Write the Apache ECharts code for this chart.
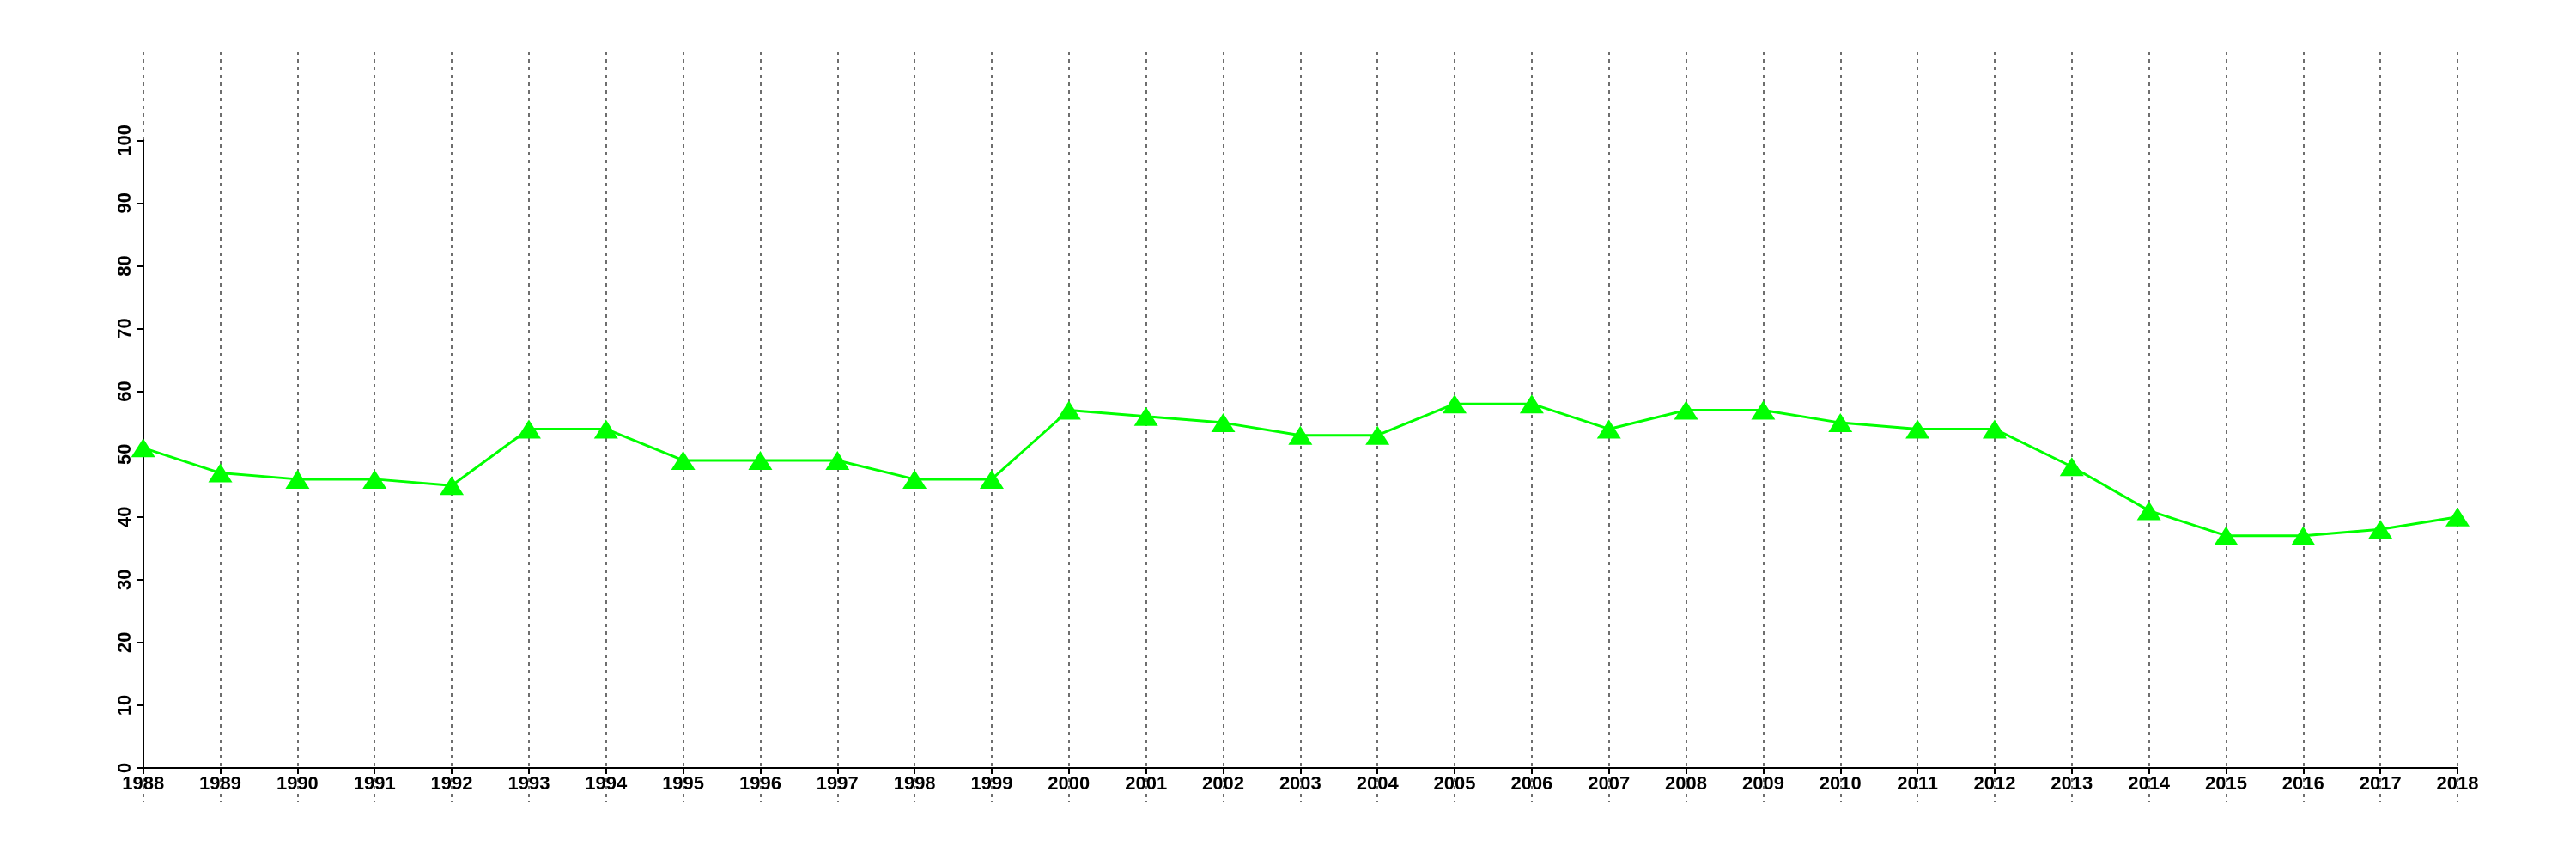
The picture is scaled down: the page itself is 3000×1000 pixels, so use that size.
<!DOCTYPE html>
<html>
<head>
<meta charset="utf-8">
<script src="https://cdn.jsdelivr.net/npm/echarts@6/dist/echarts.min.js"></script>
<style>
html,body{margin:0;padding:0;background:#fff;}
#chart{width:3000px;height:1000px;}
</style>
</head>
<body>
<div id="chart"></div>
<script>
const years = ["1988","1989","1990","1991","1992","1993","1994","1995","1996","1997","1998","1999","2000","2001","2002","2003","2004","2005","2006","2007","2008","2009","2010","2011","2012","2013","2014","2015","2016","2017","2018"];
const values = [51,47,46,46,45,54,54,49,49,49,46,46,57,56,55,53,53,58,58,54,57,57,55,54,54,48,41,37,37,38,40];
const yMin = 0, yMax = 100, yStep = 10;

const chart = echarts.init(document.getElementById('chart'), null, {renderer:'canvas'});
const font = {fontFamily:'Liberation Sans, Arial, sans-serif', fontWeight:'bold', fontSize:22, color:'#000'};
chart.setOption({
  backgroundColor:'#fff',
  animation:false,
  grid:[
    {left:166.7, right:138, top:163.3, bottom:106},
    {left:166.7, right:138, top:60, bottom:66}
  ],
  xAxis:[
    {gridIndex:0, type:'category', data:years, boundaryGap:false,
     axisLine:{lineStyle:{color:'#000', width:2}},
     axisTick:{show:true, length:7, lineStyle:{color:'#000', width:2}},
     axisLabel:Object.assign({margin:8, interval:0}, font),
     splitLine:{show:false}, z:3},
    {gridIndex:1, type:'category', data:years, boundaryGap:false,
     axisLine:{show:false}, axisTick:{show:false}, axisLabel:{show:false},
     splitLine:{show:true, lineStyle:{color:'#6e6e6e', width:2, type:[4,5]}}, z:1}
  ],
  yAxis:[
    {gridIndex:0, type:'value', min:yMin, max:yMax, interval:yStep,
     axisLine:{show:true, lineStyle:{color:'#000', width:2}},
     axisTick:{show:true, length:7, lineStyle:{color:'#000', width:2}},
     axisLabel:Object.assign({rotate:90, margin:10}, font),
     splitLine:{show:false}, z:3},
    {gridIndex:1, type:'value', min:0, max:1, show:false, splitLine:{show:false}}
  ],
  series:[{
    type:'line', xAxisIndex:0, yAxisIndex:0, data:values,
    symbol:'triangle', symbolSize:[28,22],
    lineStyle:{color:'#00ff00', width:3},
    itemStyle:{color:'#00ff00'},
    z:5
  }]
});
</script>
</body>
</html>
